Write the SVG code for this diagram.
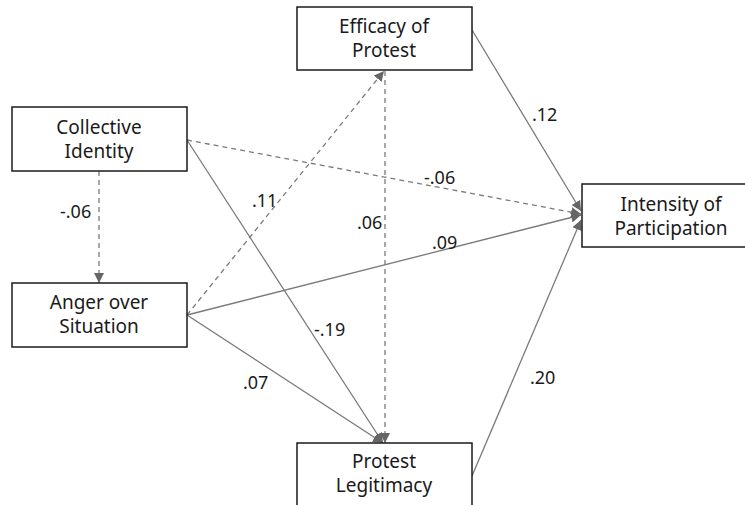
<svg xmlns="http://www.w3.org/2000/svg" width="745" height="505" viewBox="0 0 745 505">
<style>
.box{fill:#fff;stroke:#1a1a1a;stroke-width:1.5}
.t{font-family:"Noto Sans","Liberation Sans",sans-serif;font-size:19px;fill:#1a1a1a;text-anchor:middle}
.l{font-family:"Noto Sans","Liberation Sans",sans-serif;font-size:18px;fill:#1a1a1a}
.s{fill:none;stroke:#7a7a7a;stroke-width:1.3}
.d{fill:none;stroke:#7a7a7a;stroke-width:1.3;stroke-dasharray:5,4}
</style>
<defs>
<marker id="ah" viewBox="0 0 10 10" refX="10" refY="5" markerWidth="10" markerHeight="10" markerUnits="userSpaceOnUse" orient="auto">
<path d="M0,0 L10,5 L0,10 Z" fill="#666"/>
</marker>
</defs>
<rect width="745" height="505" fill="#fff"/>
<g id="connectors">
<line class="d" x1="99" y1="171" x2="99" y2="283" marker-end="url(#ah)"/>
<line class="d" x1="187" y1="140" x2="581" y2="214" marker-end="url(#ah)"/>
<line class="s" x1="187" y1="140" x2="383" y2="443" marker-end="url(#ah)"/>
<line class="d" x1="187" y1="315" x2="384" y2="71" marker-end="url(#ah)"/>
<line class="s" x1="187" y1="315" x2="581" y2="215" marker-end="url(#ah)"/>
<line class="s" x1="187" y1="315" x2="383" y2="443" marker-end="url(#ah)"/>
<line class="d" x1="385" y1="71" x2="385" y2="443" marker-end="url(#ah)"/>
<line class="s" x1="472" y1="30" x2="581" y2="211" marker-end="url(#ah)"/>
<line class="s" x1="472" y1="476" x2="581" y2="220" marker-end="url(#ah)"/>
<text class="l" x="60" y="218">-.06</text>
<text class="l" x="252" y="207">.11</text>
<text class="l" x="357" y="229">.06</text>
<text class="l" x="424" y="184">-.06</text>
<text class="l" x="432" y="249">.09</text>
<text class="l" x="314" y="336">-.19</text>
<text class="l" x="243" y="389">.07</text>
<text class="l" x="532" y="121">.12</text>
<text class="l" x="530" y="384">.20</text>
</g>
<g id="collective-identity">
<rect class="box" x="12" y="107" width="175" height="64"/>
<text class="t" x="99" y="134">Collective</text>
<text class="t" x="99" y="158">Identity</text>
</g>
<g id="anger-over-situation">
<rect class="box" x="12" y="283" width="175" height="64"/>
<text class="t" x="99" y="309">Anger over</text>
<text class="t" x="99" y="333">Situation</text>
</g>
<g id="efficacy-of-protest">
<rect class="box" x="297" y="7" width="175" height="63"/>
<text class="t" x="384" y="33">Efficacy of</text>
<text class="t" x="384" y="57">Protest</text>
</g>
<g id="protest-legitimacy">
<rect class="box" x="297" y="443" width="175" height="70"/>
<text class="t" x="384" y="468">Protest</text>
<text class="t" x="384" y="492">Legitimacy</text>
</g>
<g id="intensity-of-participation">
<rect class="box" x="582" y="184" width="175" height="63"/>
<text class="t" x="671" y="211">Intensity of</text>
<text class="t" x="671" y="235">Participation</text>
</g>
</svg>
